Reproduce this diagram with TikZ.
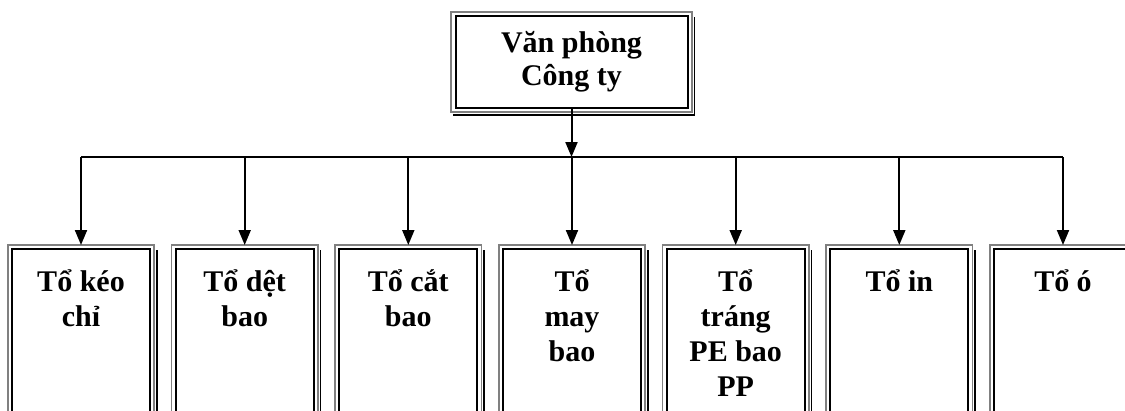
\documentclass[tikz,border=0pt]{standalone}
\usepackage{fontspec}
\setmainfont{Liberation Serif}
\usetikzlibrary{arrows.meta,calc}
\definecolor{framegray}{gray}{0.5}

% grey outer rule plus black drop line on the right and bottom
\newcommand\wframe[1]{%
  \draw[framegray, line width=1.7pt] ([shift={(-3.2,3.2)}]#1.north west) rectangle ([shift={(3.2,-3.2)}]#1.south east);
  \draw[line width=1.6pt] ([shift={(5.8,-2)}]#1.north east) -- ([shift={(5.8,-5.8)}]#1.south east) -- ([shift={(-2,-5.8)}]#1.south west);
}

\begin{document}
\begin{tikzpicture}[x=1pt,y=1pt,
  conn/.style={line width=2pt},
  arr/.style={conn, -{Triangle[width=12pt,length=15pt]}},
  topbox/.style={draw, line width=2pt, minimum width=232pt, minimum height=92pt,
    inner sep=0pt, align=center, font=\bfseries\fontsize{30}{33}\selectfont},
  unitbox/.style={draw, line width=2pt, minimum width=138pt, inner sep=0pt, anchor=north,
    text height=42pt, text depth=200pt, font=\bfseries\fontsize{30}{35}\selectfont},
]
\useasboundingbox (0,0) rectangle (1125,-410);
\clip (0,0) rectangle (1125,-410);

\node[topbox] (top) at (571.5,-62) {Văn phòng\\Công ty};
\wframe{top}

\node[unitbox] (u1) at (81,-248)     {\parbox[t]{132pt}{\centering Tổ kéo\\chỉ}};
\node[unitbox] (u2) at (244.7,-248)  {\parbox[t]{132pt}{\centering Tổ dệt\\bao}};
\node[unitbox] (u3) at (408.3,-248)  {\parbox[t]{132pt}{\centering Tổ cắt\\bao}};
\node[unitbox] (u4) at (572,-248)    {\parbox[t]{132pt}{\centering Tổ\\may\\bao}};
\node[unitbox] (u5) at (735.7,-248)  {\parbox[t]{132pt}{\centering Tổ\\tráng\\PE bao\\PP}};
\node[unitbox] (u6) at (899.3,-248)  {\parbox[t]{132pt}{\centering Tổ in}};
\node[unitbox] (u7) at (1063,-248)   {\parbox[t]{132pt}{\centering Tổ ó}};
\foreach \i in {1,...,7} {\wframe{u\i}}

% distribution bar and connectors
\coordinate (bar) at (571.5,-157);
\draw[arr] (top.south) -- (bar);
\draw[conn] (bar -| u1.north) -- (bar -| u7.north);
\foreach \i in {1,...,7} {\draw[arr, shorten >=3pt] (bar -| u\i.north) -- (u\i.north);}
\end{tikzpicture}
\end{document}
